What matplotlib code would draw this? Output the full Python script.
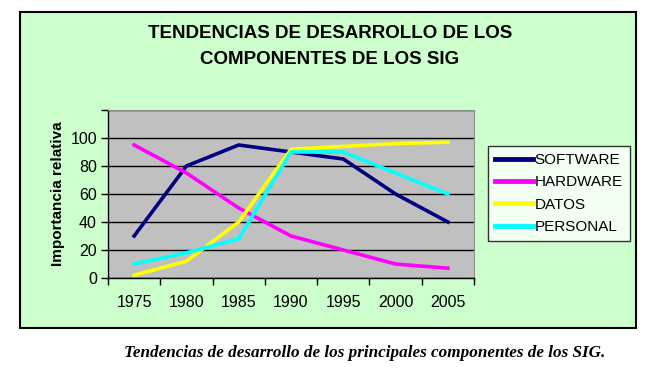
import numpy as np
import matplotlib.pyplot as plt
from matplotlib.patches import Rectangle

years = ['1975', '1980', '1985', '1990', '1995', '2000', '2005']
software = [30, 80, 95, 90, 85, 60, 40]
hardware = [95, 75, 50, 30, 20, 10, 7]
datos = [2, 12, 40, 92, 94, 96, 97]
personal = [10, 18, 28, 90, 90, 75, 60]

series = [('SOFTWARE', software, '#000080'),
          ('HARDWARE', hardware, '#FF00FF'),
          ('DATOS', datos, '#FFFF00'),
          ('PERSONAL', personal, '#00FFFF')]

fig = plt.figure(figsize=(6.54, 3.80), dpi=100)
fig.patch.set_facecolor('white')

# green chart frame
fig.patches.append(Rectangle((20/654, 1-328/380), 616/654, 316/380,
                             transform=fig.transFigure, facecolor='#CCFFCC',
                             edgecolor='black', linewidth=1.5, zorder=-5))

ax = fig.add_axes([108/654, 1-278/380, 366/654, 168/380])
ax.set_zorder(5)
ax.set_facecolor('#C0C0C0')

x = np.arange(len(years))
for name, vals, col in series:
    ax.plot(x, vals, color=col, linewidth=2.6, label=name, solid_joinstyle='miter')

ax.set_xlim(-0.5, len(years) - 0.5)
ax.set_ylim(0, 120)
ax.set_yticks(range(0, 121, 20))
ax.set_yticklabels(['0', '20', '40', '60', '80', '100', ''])
ax.set_xticks(x)
ax.set_xticklabels(years)
ax.set_xticks(np.arange(-0.5, len(years), 1), minor=True)
ax.tick_params(axis='x', which='major', length=0, pad=12, labelsize=11.5)
ax.tick_params(axis='x', which='minor', length=5, direction='out', width=1)
ax.tick_params(axis='y', length=5, direction='out', width=1, labelsize=11.5, pad=3)
for lab in ax.get_xticklabels() + ax.get_yticklabels():
    lab.set_family('Liberation Sans')

ax.grid(axis='y', color='black', linewidth=1)
ax.set_axisbelow(True)
for s in ['top', 'right']:
    ax.spines[s].set_color('#909090')
    ax.spines[s].set_linewidth(0.8)
for s in ['left', 'bottom']:
    ax.spines[s].set_color('black')
    ax.spines[s].set_linewidth(1)

ax.set_ylabel('Importancia relativa', fontsize=11, fontweight='bold',
              family='Liberation Sans', labelpad=4)

leg = ax.legend(loc='upper left', bbox_to_anchor=(488/654, 1-146/380),
                bbox_transform=fig.transFigure, frameon=True, fancybox=False,
                handlelength=2.5, handletextpad=0.1, borderpad=0.45,
                labelspacing=0.55, borderaxespad=0,
                prop={'family': 'Liberation Sans', 'size': 11})
leg.get_frame().set_edgecolor('black')
leg.get_frame().set_facecolor('white')
leg.get_frame().set_linewidth(1)
for h in leg.get_lines():
    h.set_linewidth(3.5)

fig.text(330/654, 1-34/380, 'TENDENCIAS DE DESARROLLO DE LOS',
         ha='center', va='center', fontsize=13.5, fontweight='bold',
         family='Liberation Sans')
fig.text(330/654, 1-60/380, 'COMPONENTES DE LOS SIG',
         ha='center', va='center', fontsize=13.5, fontweight='bold',
         family='Liberation Sans')

fig.text(365/654, 1-353/380,
         'Tendencias de desarrollo de los principales componentes de los SIG.',
         ha='center', va='center', fontsize=12.3, fontweight='bold',
         style='italic', family='Liberation Serif')

fig.savefig('out.png', dpi=100)
